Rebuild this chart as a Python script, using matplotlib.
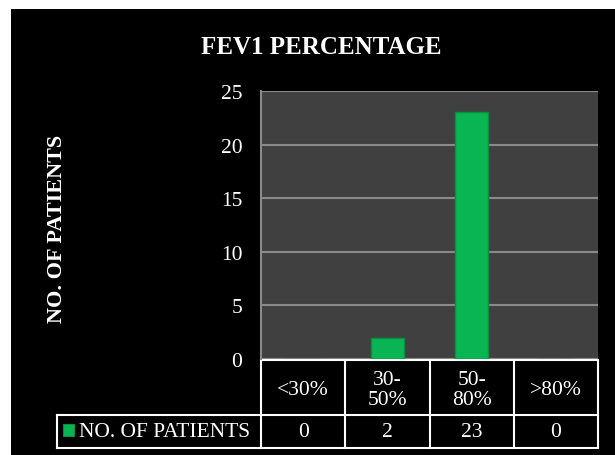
import matplotlib
matplotlib.use("Agg")
import matplotlib.pyplot as plt
from matplotlib.patches import Rectangle
from matplotlib.lines import Line2D

# data
categories = ["<30%", "30-\n50%", "50-\n80%", ">80%"]
patients = [0, 2, 23, 0]
series_name = "NO. OF PATIENTS"
title = "FEV1 PERCENTAGE"

plt.rcParams['font.family'] = ['Liberation Serif', 'DejaVu Serif']

W, H = 615, 456
fig = plt.figure(figsize=(W / 100, H / 100), dpi=100)
fig.patch.set_facecolor("white")

def fx(px):
    return px / W

def fy(py):
    return 1 - py / H

# black chart background
fig.patches.append(Rectangle((fx(11), 0), 1 - fx(11), fy(10), transform=fig.transFigure,
                             facecolor="black", edgecolor="none", zorder=-5))

left, right, top, bottom = 261, 598, 92, 360
ax = fig.add_axes([fx(left), fy(bottom), fx(right) - fx(left), fy(top) - fy(bottom)])
ax.set_zorder(2)
ax.set_facecolor("#404040")
for s in ax.spines.values():
    s.set_visible(False)
ax.spines["left"].set_visible(True)
ax.spines["left"].set_color("#8a8a8a")
ax.spines["left"].set_linewidth(1.5)

x = list(range(len(categories)))
ax.bar(x, patients, width=0.4, color="#08b552", edgecolor="#07913f", linewidth=1, zorder=3)
ax.set_xlim(-0.5, len(categories) - 0.5)
ax.set_ylim(0, 25)
ax.set_yticks([0, 5, 10, 15, 20, 25])
ax.yaxis.grid(True, color="#8a8a8a", linewidth=1.5, zorder=1)
ax.set_axisbelow(True)
ax.set_xticks([])
ax.tick_params(axis="y", length=0, pad=13.5, labelsize=15.5, labelcolor="white")

fig.text(fx(321), fy(47), title, ha="center", va="center", color="white",
         fontsize=18, fontweight="bold")
fig.text(fx(57), fy(229), series_name, ha="center", va="center", rotation=90,
         color="white", fontsize=16, fontweight="bold")

# data table below plot
row1_top, row1_bot, row2_bot = 361, 416, 449
leg_left = 57
colw = (right - left) / len(categories)
lw = 1.5
def hline(y, x0, x1):
    fig.add_artist(Line2D([fx(x0), fx(x1)], [fy(y), fy(y)], color="white", lw=lw))

def vline(xp, y0, y1):
    fig.add_artist(Line2D([fx(xp), fx(xp)], [fy(y0), fy(y1)], color="white", lw=lw))

hline(row1_top, left, right)
hline(row1_bot, leg_left, right)
hline(row2_bot, leg_left, right)
vline(leg_left, row1_bot, row2_bot)
for i in range(len(categories) + 1):
    vline(left + i * colw, row1_top, row2_bot)

for i, (c, v) in enumerate(zip(categories, patients)):
    cx = left + (i + 0.5) * colw
    fig.text(fx(cx), fy((row1_top + row1_bot) / 2 + 2), c, ha="center", va="center",
             color="white", fontsize=15.5, linespacing=1.1)
    fig.text(fx(cx), fy((row1_bot + row2_bot) / 2), str(v), ha="center", va="center",
             color="white", fontsize=15.5)

fig.patches.append(Rectangle((fx(63), fy(437)), fx(74) - fx(63), fy(425) - fy(437),
                             transform=fig.transFigure, facecolor="#08b552",
                             edgecolor="#07913f", lw=0.8))
fig.text(fx(79), fy((row1_bot + row2_bot) / 2), series_name, ha="left", va="center",
         color="white", fontsize=15.5)

fig.savefig("out.png", dpi=100, facecolor=fig.get_facecolor())
